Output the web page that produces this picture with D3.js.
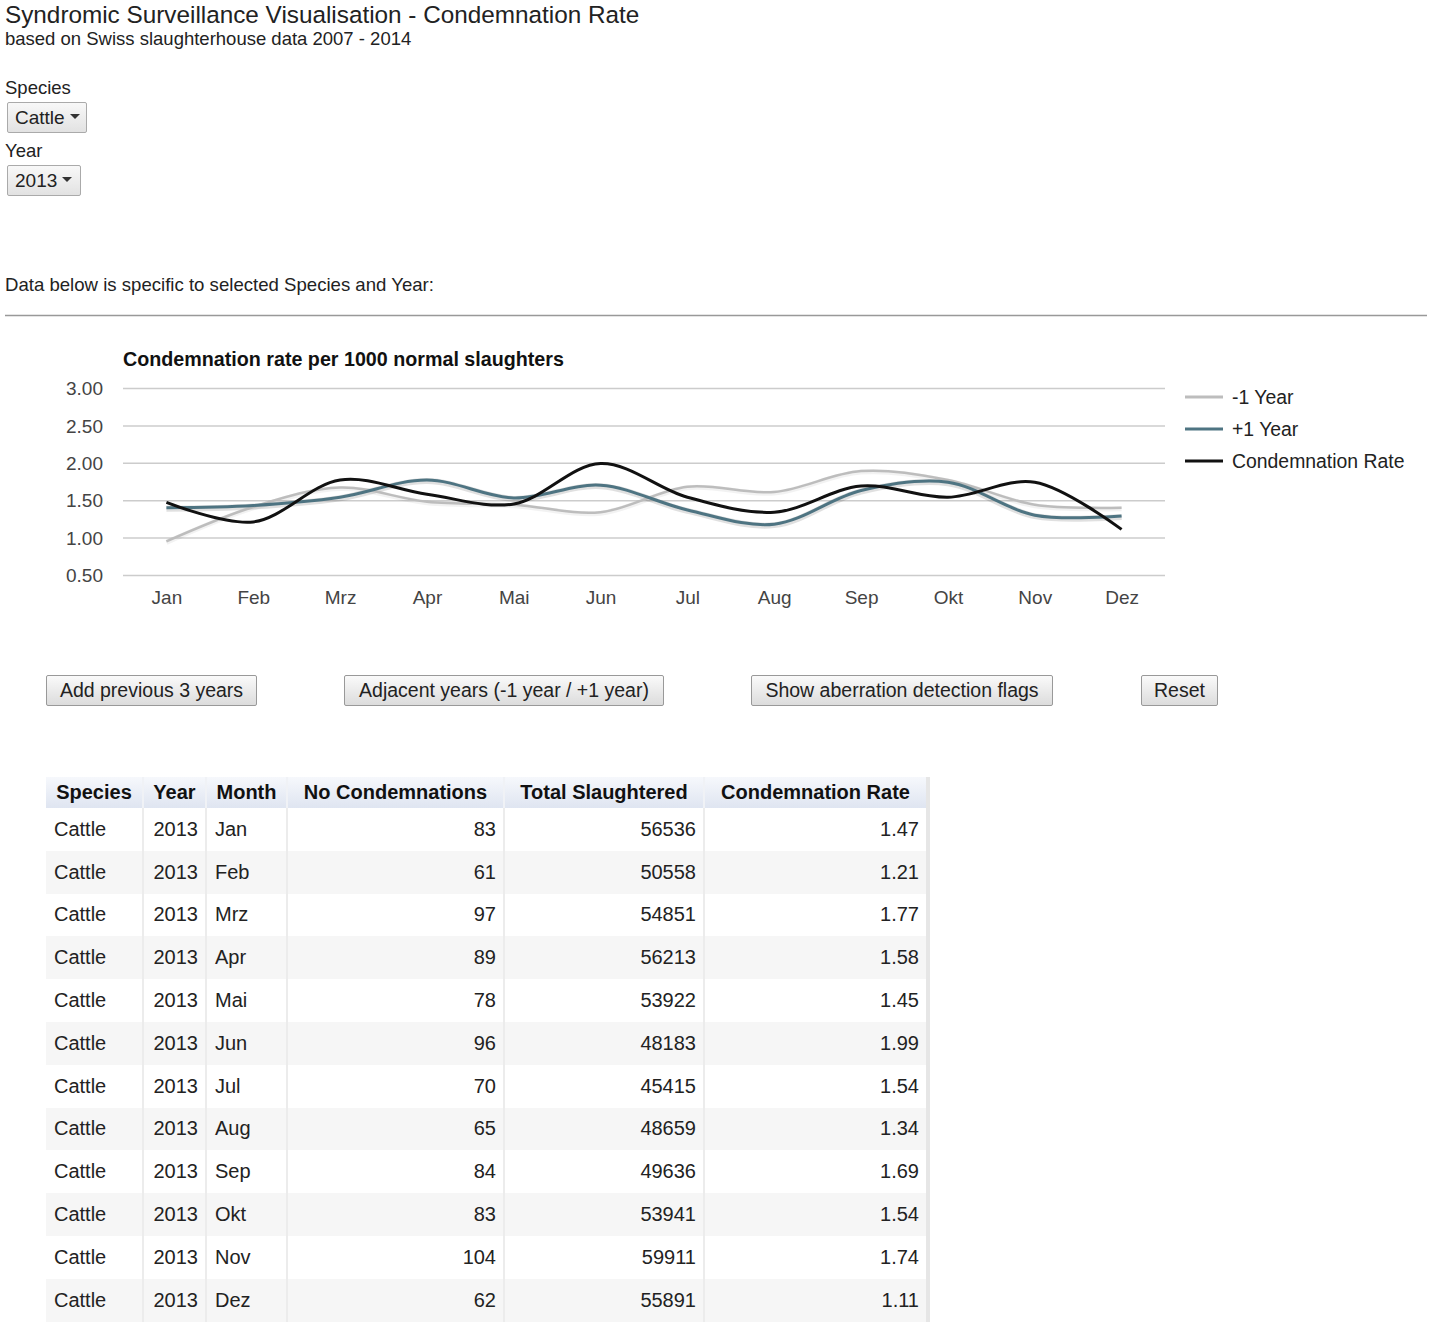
<!DOCTYPE html>
<html>
<head>
<meta charset="utf-8">
<script src="https://cdn.jsdelivr.net/npm/d3@7"></script>
<style>
  html, body { margin:0; padding:0; background:#fff; }
  body { width:1432px; height:1328px; position:relative; overflow:hidden; font-family:"Liberation Sans", Arial, sans-serif; color:#222; }
  svg#page { position:absolute; left:0; top:0; }
  .dd { position:absolute; height:31px; border:1px solid #aaa; border-radius:2px;
        background:linear-gradient(#f8f8f8,#e2e2e2); box-sizing:border-box; font-size:19px;
        line-height:29px; padding-left:7px; color:#222; }
  .dd .arr { display:inline-block; width:0; height:0; border-left:5px solid transparent; border-right:5px solid transparent; border-top:5px solid #333; margin-left:5px; vertical-align:middle; position:relative; top:-2px;}
  .btn { position:absolute; height:31px; border:1px solid #999; border-radius:2px;
         background:linear-gradient(#fafafa,#dcdcdc); box-sizing:border-box; font-size:19.5px;
         line-height:29px; text-align:center; color:#222; }
  table { position:absolute; left:46px; top:777px; border-collapse:collapse; font-size:20px; table-layout:fixed; }
  th { height:31px; padding:0; font-weight:bold; text-align:center; background:linear-gradient(#f6f8fc,#dfe5f1); border-left:2px solid #f0f2f6; box-sizing:border-box; color:#111; }
  td { height:42.8px; padding:0 7px 0 8px; border-left:2px solid #ececec; box-sizing:border-box; color:#222; }
  td.num { text-align:right; }
  tr.odd td { background:#fff; }
  tr.even td { background:#f6f6f6; }
  th:first-child, td:first-child { border-left:none; }
  table { border-right:4px solid #e6e6e6; }
</style>
</head>
<body>
<svg id="page" width="1432" height="1328"></svg>
<script>
// ---------- data ----------
const months = ["Jan","Feb","Mrz","Apr","Mai","Jun","Jul","Aug","Sep","Okt","Nov","Dez"];
const condemnationRate = [1.47,1.21,1.77,1.58,1.45,1.99,1.54,1.34,1.69,1.54,1.74,1.11];
const minusOneYear = [0.95,1.41,1.67,1.48,1.44,1.34,1.68,1.61,1.89,1.77,1.44,1.40];
const plusOneYear = [1.40,1.43,1.54,1.77,1.53,1.70,1.37,1.18,1.63,1.74,1.30,1.29];
const noCondemnations = [83,61,97,89,78,96,70,65,84,83,104,62];
const totalSlaughtered = [56536,50558,54851,56213,53922,48183,45415,48659,49636,53941,59911,55891];
const yTicks = [0.5,1.0,1.5,2.0,2.5,3.0];
const species = "Cattle";
const year = 2013;
const seriesNames = ["-1 Year","+1 Year","Condemnation Rate"];
const seriesColors = ["#bdbdbd","#4e7482","#111111"];

const svg = d3.select("#page");
const font = '"Liberation Sans", Arial, sans-serif';

// header texts
svg.append("text").attr("x",5).attr("y",23).attr("font-size",24.3).attr("font-family",font).attr("fill","#222")
  .text("Syndromic Surveillance Visualisation - Condemnation Rate");
svg.append("text").attr("x",5).attr("y",45).attr("font-size",18.5).attr("font-family",font).attr("fill","#222")
  .text("based on Swiss slaughterhouse data 2007 - 2014");
svg.append("text").attr("x",5).attr("y",94).attr("font-size",18.5).attr("font-family",font).attr("fill","#222").text("Species");
svg.append("text").attr("x",5).attr("y",157).attr("font-size",18.5).attr("font-family",font).attr("fill","#222").text("Year");
svg.append("text").attr("x",5).attr("y",291).attr("font-size",18.6).attr("font-family",font).attr("fill","#222")
  .text("Data below is specific to selected Species and Year:");
svg.append("line").attr("x1",5).attr("x2",1427).attr("y1",315.5).attr("y2",315.5).attr("stroke","#999").attr("stroke-width",1.5);

// dropdowns
d3.select("body").append("div").attr("class","dd").style("left","7px").style("top","102px").style("width","80px")
  .html(species + '<span class="arr"></span>');
d3.select("body").append("div").attr("class","dd").style("left","7px").style("top","165px").style("width","74px")
  .html(year + '<span class="arr"></span>');

// ---------- chart ----------
const x = d3.scalePoint().domain(months).range([123,1165]).padding(0.5);
const y = d3.scaleLinear().domain([0.5,3.0]).range([575,388]);

svg.append("text").attr("x",123).attr("y",366).attr("font-size",19.7).attr("font-weight","bold")
  .attr("font-family",font).attr("fill","#111").text("Condemnation rate per 1000 normal slaughters");

const grid = svg.append("g");
grid.selectAll("line").data(yTicks).join("line")
  .attr("x1",123).attr("x2",1165).attr("y1",d=>y(d)+0.5).attr("y2",d=>y(d)+0.5)
  .attr("stroke","#cccccc").attr("stroke-width",1.5);

const yAxis = svg.append("g").attr("transform","translate(103,0)")
  .call(d3.axisLeft(y).tickValues(yTicks).tickFormat(d3.format(".2f")).tickSize(0).tickPadding(0));
yAxis.select(".domain").remove();
yAxis.selectAll("text").attr("font-size",19).attr("font-family",font).attr("fill","#444").attr("dy","0.35em");

const xAxis = svg.append("g").attr("transform","translate(0,588)")
  .call(d3.axisBottom(x).tickSize(0).tickPadding(0));
xAxis.select(".domain").remove();
xAxis.selectAll("text").attr("font-size",19).attr("font-family",font).attr("fill","#444").attr("dy","0.85em");

const line = d3.line().x((d,i)=>x(months[i])).y(d=>y(d)).curve(d3.curveCatmullRom.alpha(0.5));
const allSeries = [minusOneYear, plusOneYear, condemnationRate];
const widths = [2.5, 3, 3];

// soft shadow under teal line
svg.append("path").attr("d", line(plusOneYear)).attr("fill","none").attr("stroke","#000").attr("stroke-opacity",0.12)
  .attr("stroke-width",6).attr("transform","translate(0,1)");
svg.append("path").attr("d", line(minusOneYear)).attr("fill","none").attr("stroke","#000").attr("stroke-opacity",0.05)
  .attr("stroke-width",5).attr("transform","translate(0,1)");

allSeries.forEach((s,k)=>{
  svg.append("path").attr("d", line(s)).attr("fill","none").attr("stroke",seriesColors[k])
    .attr("stroke-width",widths[k]).attr("stroke-linejoin","round");
});

// legend
const lg = svg.append("g");
seriesNames.forEach((n,k)=>{
  const ly = 397 + k*32;
  lg.append("line").attr("x1",1185).attr("x2",1223).attr("y1",ly).attr("y2",ly).attr("stroke",seriesColors[k]).attr("stroke-width",3);
  lg.append("text").attr("x",1232).attr("y",ly).attr("dy","0.35em").attr("font-size",19.4).attr("font-family",font)
    .attr("fill","#222").text(n);
});

// buttons
const buttons = [
  {t:"Add previous 3 years", l:46, w:211},
  {t:"Adjacent years (-1 year / +1 year)", l:344, w:320},
  {t:"Show aberration detection flags", l:751, w:302},
  {t:"Reset", l:1141, w:77}
];
d3.select("body").selectAll("div.btn").data(buttons).join("div").attr("class","btn")
  .style("left",d=>d.l+"px").style("top","675px").style("width",d=>d.w+"px").text(d=>d.t);

// ---------- table ----------
const cols = [
  {h:"Species", w:97}, {h:"Year", w:63}, {h:"Month", w:81},
  {h:"No Condemnations", w:217}, {h:"Total Slaughtered", w:200}, {h:"Condemnation Rate", w:224}
];
const table = d3.select("body").append("table");
const cg = table.append("colgroup");
cols.forEach(c=>cg.append("col").style("width",c.w+"px"));
table.append("thead").append("tr").selectAll("th").data(cols).join("th").text(d=>d.h);
const rows = months.map((m,i)=>[
  {v:species}, {v:year, num:true}, {v:m}, {v:noCondemnations[i], num:true},
  {v:totalSlaughtered[i], num:true}, {v:condemnationRate[i].toFixed(2), num:true}
]);
table.append("tbody").selectAll("tr").data(rows).join("tr").attr("class",(d,i)=> i%2===0?"odd":"even")
  .selectAll("td").data(d=>d).join("td").attr("class",d=>d.num?"num":null).text(d=>d.v);
</script>
</body>
</html>
